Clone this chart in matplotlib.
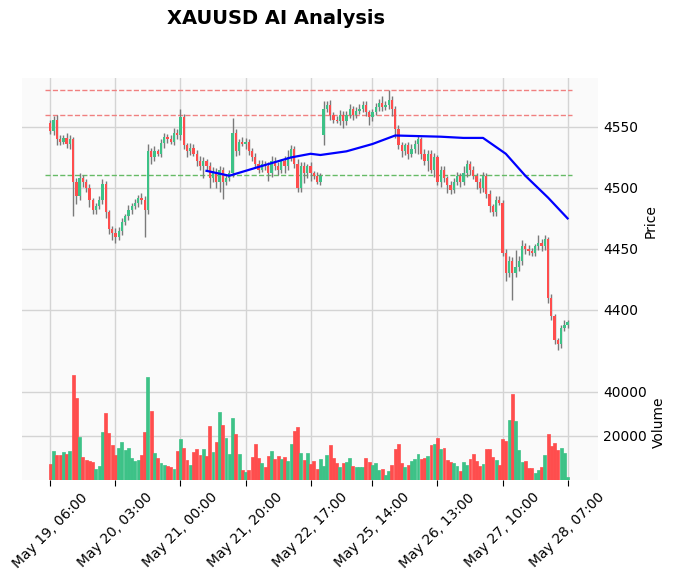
"""XAUUSD hourly candles with AI levels and trend line."""

import matplotlib
matplotlib.use("Agg")
import matplotlib.pyplot as plt

# closes per hourly bar; open = previous close unless listed in GAP_OPENS
FIRST_OPEN = 4553
CLOSES = [
    4547, 4556, 4540, 4538, 4541, 4536, 4540, 4505, 4493, 4508,
    4505, 4500, 4490, 4482, 4485, 4490, 4503, 4480, 4466, 4463,
    4460, 4465, 4472, 4477, 4482, 4485, 4488, 4492, 4490, 4482,
    4530, 4525, 4530, 4528, 4537, 4542, 4540, 4538, 4545, 4543,
    4558, 4535, 4530, 4533, 4528, 4522, 4518, 4522, 4518, 4508,
    4513, 4505, 4515, 4505, 4508, 4512, 4545, 4530, 4538, 4536,
    4538, 4530, 4525, 4520, 4515, 4520, 4518, 4512, 4522, 4518,
    4515, 4522, 4518, 4525, 4532, 4520, 4500, 4518, 4512, 4518,
    4512, 4510, 4505, 4510, 4565, 4568, 4560, 4556, 4555, 4560,
    4555, 4560, 4565, 4560, 4563, 4565, 4568, 4562, 4558, 4562,
    4566, 4570, 4566, 4568, 4572, 4565, 4548, 4535, 4530, 4535,
    4528, 4532, 4536, 4540, 4528, 4522, 4528, 4515, 4525, 4505,
    4515, 4508, 4502, 4498, 4505, 4510, 4505, 4512, 4520, 4515,
    4510, 4505, 4500, 4510, 4495, 4485, 4480, 4490, 4488, 4447,
    4430, 4440, 4430, 4435, 4440, 4452, 4450, 4448, 4447, 4452,
    4455, 4452, 4458, 4410, 4395, 4375, 4372, 4385, 4388, 4390,
]
GAP_OPENS = {84: 4543}
WICK_UP = [
    3, 3, 4, 3, 2, 4, 3, 2, 3, 4,
    3, 2, 3, 2, 3, 3, 4, 3, 2, 3,
    4, 3, 3, 2, 4, 3, 3, 2, 4, 3,
    6, 3, 4, 2, 3, 3, 2, 3, 4, 3,
    7, 3, 2, 4, 3, 3, 4, 3, 2, 3,
    4, 3, 3, 2, 3, 3, 12, 3, 2, 4,
    3, 2, 3, 4, 3, 3, 2, 3, 4, 3,
    3, 2, 4, 6, 3, 2, 4, 3, 3, 2,
    3, 2, 3, 2, 6, 3, 4, 2, 3, 4,
    3, 3, 4, 2, 3, 4, 3, 3, 2, 3,
    4, 3, 5, 3, 8, 3, 2, 4, 3, 2,
    3, 4, 3, 3, 2, 4, 3, 3, 4, 2,
    3, 3, 2, 4, 3, 3, 2, 6, 3, 2,
    3, 2, 3, 3, 2, 3, 2, 3, 3, 2,
    3, 4, 3, 14, 4, 5, 3, 3, 3, 2,
    6, 3, 3, 2, 3, 2, 2, 3, 4, 2,
]
WICK_DN = [
    3, 4, 5, 3, 2, 3, 4, 28, 6, 3,
    4, 3, 6, 3, 3, 2, 3, 5, 4, 6,
    5, 3, 4, 2, 3, 3, 2, 4, 3, 22,
    3, 5, 3, 2, 3, 4, 3, 2, 3, 3,
    4, 3, 5, 3, 2, 4, 3, 10, 4, 8,
    3, 5, 8, 14, 3, 2, 3, 4, 3, 2,
    4, 3, 3, 4, 3, 2, 3, 6, 3, 3,
    4, 3, 6, 3, 3, 4, 3, 3, 8, 4,
    6, 3, 2, 3, 8, 3, 4, 3, 2, 3,
    6, 3, 3, 4, 3, 2, 3, 3, 6, 3,
    2, 3, 3, 2, 3, 6, 7, 3, 5, 3,
    4, 3, 3, 8, 4, 3, 8, 3, 6, 3,
    4, 3, 6, 3, 2, 3, 4, 3, 3, 4,
    3, 6, 4, 3, 3, 5, 3, 3, 2, 3,
    6, 3, 22, 3, 3, 3, 4, 3, 3, 3,
    3, 4, 3, 4, 3, 3, 5, 3, 2, 3,
]
VOLUMES = [
    7300, 13200, 11400, 11400, 12700, 11800, 13200, 47700, 37300, 19500,
    10500, 9100, 8600, 8200, 5000, 6400, 21800, 30500, 21400, 15900,
    11400, 14500, 17300, 13600, 14500, 10000, 8600, 9100, 11400, 21800,
    46800, 31400, 12300, 10000, 7700, 6800, 6400, 5900, 5000, 13200,
    18600, 14500, 9100, 6800, 12700, 14100, 11400, 14100, 10900, 24500,
    12700, 17300, 30900, 25000, 19100, 11800, 28200, 20900, 11800, 4500,
    3600, 4500, 10500, 16400, 10000, 7700, 5900, 10900, 13200, 9500,
    10900, 9500, 10500, 8600, 16400, 22300, 24100, 12300, 9100, 12300,
    7300, 8600, 5000, 9500, 6400, 11400, 15900, 10000, 7700, 5900,
    7700, 8200, 10000, 6400, 5900, 5900, 5900, 10000, 8200, 6800,
    7700, 4500, 5000, 2300, 4100, 6800, 14100, 16400, 7700, 5900,
    6800, 8600, 9500, 11800, 9500, 10000, 10900, 15900, 16400, 19100,
    14100, 14500, 9100, 8200, 7700, 6400, 4100, 8200, 6800, 9500,
    11800, 8600, 6400, 7300, 14100, 14100, 10500, 9100, 6800, 18600,
    17700, 27300, 39100, 26800, 13600, 8200, 8600, 5500, 5500, 3200,
    4500, 5900, 11400, 20900, 15500, 16800, 13600, 14500, 12300, 1400,
]

TREND_IDX = [48, 55, 65, 74, 80, 83, 91, 99, 106, 120, 127, 133, 140, 146, 153, 159]
TREND_VAL = [4514, 4510, 4518, 4525, 4528, 4527, 4530, 4536, 4543, 4542, 4541, 4541, 4528, 4510, 4492, 4475]

RESISTANCE = [4580, 4560]
SUPPORT = [4511]

TICK_POS = [0, 20, 40, 60, 80, 99, 119, 139, 159]
TICK_LABELS = ["May 19, 06:00", "May 20, 03:00", "May 21, 00:00", "May 21, 20:00",
               "May 22, 17:00", "May 25, 14:00", "May 26, 13:00", "May 27, 10:00",
               "May 28, 07:00"]

UP = "#3dc287"
DOWN = "#ff4d4d"
WICK = "#7a7a7a"
GRID = "#d4d4d4"
FACE = "#fafafa"

fig = plt.figure(figsize=(6.79, 5.79), dpi=100)
ax = fig.add_axes([0.032, 0.370, 0.849, 0.495])
axv = fig.add_axes([0.032, 0.171, 0.849, 0.199], sharex=ax)

n = len(CLOSES)
opens = [GAP_OPENS.get(i, FIRST_OPEN if i == 0 else CLOSES[i - 1]) for i in range(n)]
for i in range(n):
    o, c = opens[i], CLOSES[i]
    hi = max(o, c) + WICK_UP[i]
    lo = min(o, c) - WICK_DN[i]
    col = UP if c >= o else DOWN
    ax.vlines(i, lo, hi, color=WICK, lw=1.0, zorder=2)
    ax.bar(i, max(abs(c - o), 0.4), bottom=min(o, c), width=0.7, color=col, zorder=3)
    axv.bar(i, VOLUMES[i], width=0.9, color=col, edgecolor=col, lw=0.5, zorder=3)

for lv in RESISTANCE:
    ax.hlines(lv, -1.5, n + 0.5, colors="#f08080", linestyles="--", lw=1.0, zorder=1)
for lv in SUPPORT:
    ax.hlines(lv, -1.5, n + 0.5, colors="#66bb66", linestyles="--", lw=1.0, zorder=1)
ax.plot(TREND_IDX, TREND_VAL, color="blue", lw=1.6, zorder=4)

for a in (ax, axv):
    a.set_facecolor(FACE)
    a.grid(True, color=GRID, lw=1.0)
    a.set_axisbelow(True)
    for s in a.spines.values():
        s.set_visible(False)
    a.yaxis.tick_right()
    a.yaxis.set_label_position("right")
    a.tick_params(axis="y", length=0, labelsize=10)

ax.set_xlim(-8.8, 168.4)
ax.set_ylim(4355, 4590)
ax.set_yticks([4400, 4450, 4500, 4550])
ax.set_ylabel("Price", fontsize=10)
ax.tick_params(axis="x", labelbottom=False, length=0)

axv.set_ylim(0, 52300)
axv.set_yticks([20000, 40000])
axv.set_ylabel("Volume", fontsize=10)
axv.set_xticks(TICK_POS)
axv.set_xticklabels(TICK_LABELS, rotation=45, ha="center", fontsize=10)
axv.tick_params(axis="x", length=4)

fig.text(0.407, 0.968, "XAUUSD AI Analysis", ha="center", va="center",
         fontsize=14, fontweight="bold")

fig.savefig("out.png", dpi=100)
